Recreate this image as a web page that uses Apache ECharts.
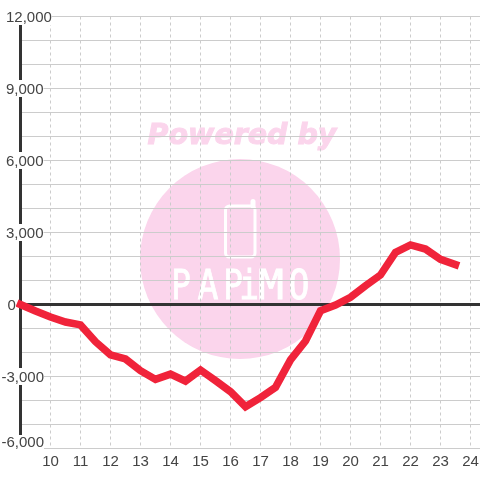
<!DOCTYPE html>
<html><head><meta charset="utf-8">
<style>html,body{margin:0;padding:0;background:#fff}#c{width:480px;height:480px}</style>
<script src="https://cdn.jsdelivr.net/npm/echarts@6/dist/echarts.min.js"></script>
</head><body><div id="c"></div>
<script>
const hours = [9,9.5,10,10.5,11,11.5,12,12.5,13,13.5,14,14.5,15,15.5,16,16.5,17,17.5,18,18.5,19,19.5,20,20.5,21,21.5,22,22.5,23,23.5];
const values = [0,-270,-520,-730,-850,-1550,-2100,-2270,-2760,-3120,-2900,-3190,-2730,-3170,-3630,-4260,-3880,-3450,-2310,-1520,-260,-20,300,780,1230,2170,2480,2310,1880,1660];
const yTickLabels = [-6000,-3000,0,3000,6000,9000,12000];
const xTickLabels = [10,11,12,13,14,15,16,17,18,19,20,21,22,23,24];

const TEXT = '#444444', GRID = '#cccccc', DARK = '#333333', PINK = '#fbd5ec';
const chart = echarts.init(document.getElementById('c'), null, {renderer:'canvas'});
const letter = (t,x,sx) => ({type:'text', z:-1, x:x, y:288, scaleX:sx,
  style:{text:t, fill:'#fff', stroke:'#fff', lineWidth:0.8, font:'41px "DejaVu Sans Mono"', align:'center', verticalAlign:'middle'}});
const base = {fontSize:15, lineHeight:13, backgroundColor:'#fff', color:TEXT, fontFamily:'Liberation Sans'};
chart.setOption({
  animation:false,
  backgroundColor:'#fff',
  grid:{left:20.5, right:0, top:16.5, bottom:31.5, outerBoundsMode:'none'},
  graphic:{elements:[
    {type:'circle', z:-2, shape:{cx:240,cy:259,r:100}, style:{fill:PINK}},
    {type:'text', z:-2, x:242, y:137, style:{text:'Powered by', fill:PINK, stroke:PINK, lineWidth:1, font:'italic bold 28.5px "DejaVu Sans"', align:'center', verticalAlign:'middle'}},
    {type:'rect', z:-1, shape:{x:225.5,y:206,width:29.5,height:51,r:4}, style:{fill:null, stroke:'#fff', lineWidth:3}},
    {type:'line', z:-1, shape:{x1:253,y1:206,x2:253,y2:201.5}, style:{stroke:'#fff', lineWidth:5, lineCap:'round'}},
    letter('P',181,0.8), letter('A',208,0.85), letter('P',233,0.8), letter('i',249,0.8), letter('M',271,1.05), letter('O',299,0.85)
  ]},
  xAxis:{type:'value', min:9, max:24.317, interval:1,
    axisLine:{show:false}, axisTick:{show:false},
    splitLine:{show:true, showMinLine:false, showMaxLine:false, lineStyle:{color:GRID, type:[3,3], width:1}},
    axisLabel:{customValues:xTickLabels, color:TEXT, fontSize:15, margin:6, fontFamily:'Liberation Sans', formatter:v=>String(v)}},
  yAxis:{type:'value', min:-6000, max:12000, interval:1000,
    axisLine:{show:true, onZero:false, lineStyle:{color:DARK, width:3}}, axisTick:{show:false},
    splitLine:{show:true, lineStyle:{color:GRID, width:1}},
    axisLabel:{customValues:yTickLabels, align:'left', margin:19,
      formatter:v=>{
        const s = v.toLocaleString('en-US');
        if (v === -6000) return '{bot|'+s+'}';
        if (v < 0) return '{neg|'+s+'}';
        if (v === 0) return '{zero|'+s+'}';
        return '{pos|'+s+'}';
      },
      rich:{
        pos:{...base, padding:[2,0,0,4.5]},
        neg:{...base, padding:[2,0,0,0]},
        zero:{...base, padding:[2,0,0,6]},
        bot:{...base, padding:[0,0,12,0]}
      }}},
  series:[
    {type:'line', data:hours.map((h,i)=>[h,values[i]]), symbol:'none', clip:false, z:3,
     lineStyle:{color:'#f0233a', width:7.5, cap:'square', join:'miter'},
     markLine:{silent:true, z:1, symbol:'none', label:{show:false}, lineStyle:{color:DARK,width:3,type:'solid'}, data:[{yAxis:0}]}}
  ]
});
</script></body></html>
